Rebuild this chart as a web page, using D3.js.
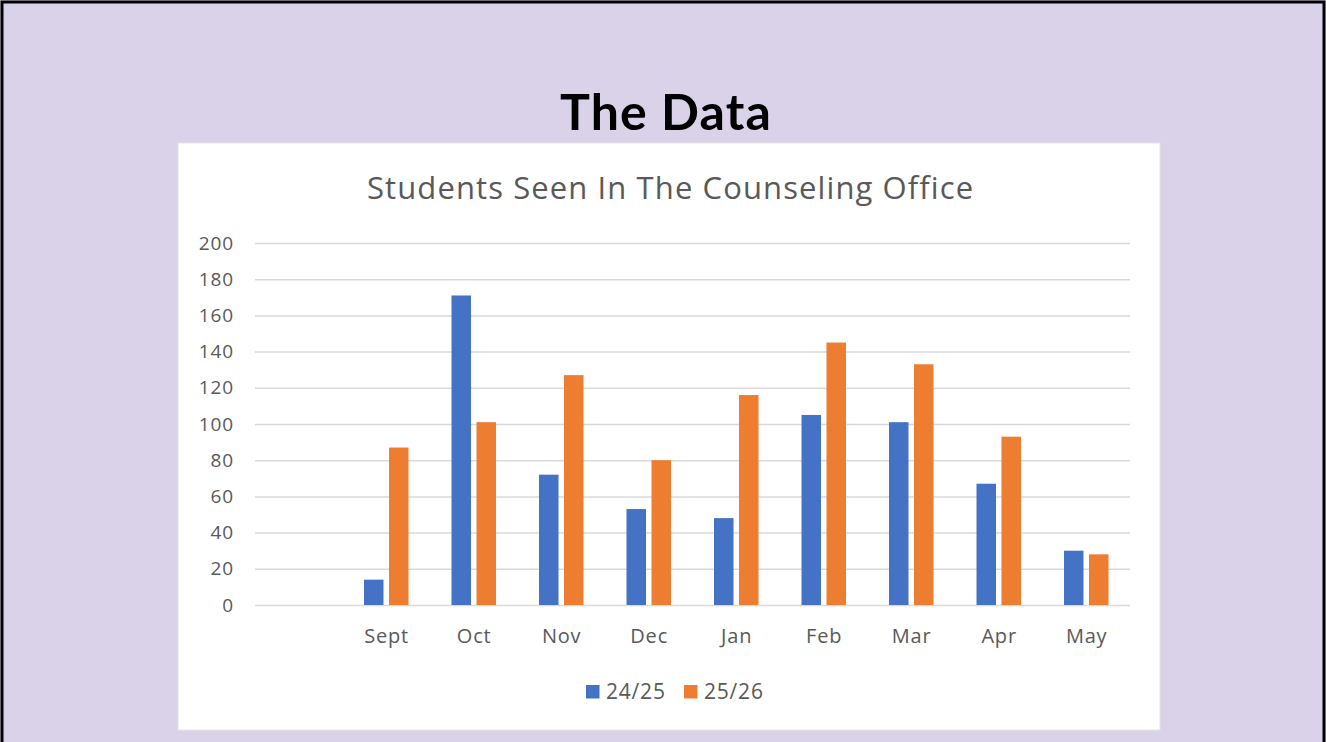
<!DOCTYPE html>
<html><head><meta charset="utf-8">
<script src="https://cdn.jsdelivr.net/npm/d3@7"></script>
<style>html,body{margin:0;padding:0;background:#d9d2e9;}svg{display:block;}</style>
</head><body>
<script>
const months = ["", "Sept", "Oct", "Nov", "Dec", "Jan", "Feb", "Mar", "Apr", "May"];
const series = ["24/25", "25/26"];
const values2425 = [null, 14, 171, 72, 53, 48, 105, 101, 67, 30];
const values2526 = [null, 87, 101, 127, 80, 116, 145, 133, 93, 28];
const yTicks = [0, 20, 40, 60, 80, 100, 120, 140, 160, 180, 200];
const colors = ["#4472c4", "#ed7d31"];

const W = 1326, H = 742;
const FONT = "'Open Sans', sans-serif";
const svg = d3.select("body").append("svg").attr("width", W).attr("height", H);
svg.append("rect").attr("x", 0).attr("y", 0).attr("width", W).attr("height", H).attr("fill", "#d9d2e9");
svg.append("rect").attr("x", 2).attr("y", 2).attr("width", W - 4).attr("height", H + 10)
  .attr("fill", "none").attr("stroke", "#000").attr("stroke-width", 3);

svg.append("text").attr("x", 666).attr("y", 129.5).attr("text-anchor", "middle")
  .attr("font-family", "Lato, sans-serif").attr("font-weight", 700).attr("font-size", 50)
  .attr("letter-spacing", 1.1)
  .attr("fill", "#000").text("The Data");

svg.append("rect").attr("x", 178).attr("y", 143).attr("width", 982).attr("height", 587)
  .attr("fill", "#fff").attr("stroke", "#e6e6e6").attr("stroke-width", 1);

svg.append("text").attr("x", 367).attr("y", 198.5)
  .attr("font-family", FONT).attr("font-size", 31).attr("letter-spacing", 1.1)
  .attr("fill", "#595959").text("Students Seen In The Counseling Office");

const x = d3.scaleBand().domain(months.map((m, i) => i)).range([255, 1130]).padding(0);
const y = d3.scaleLinear().domain([0, 200]).range([605, 243]);

const yAxis = d3.axisLeft(y).tickValues(yTicks).tickSize(-(1130 - 255)).tickPadding(21);
const gy = svg.append("g").attr("transform", "translate(255,0)").call(yAxis);
gy.select(".domain").remove();
gy.selectAll(".tick line").attr("stroke", "#d9d9d9").attr("stroke-width", 1.5);
gy.selectAll(".tick text").attr("fill", "#595959").attr("font-family", FONT).attr("font-size", 19)
  .attr("letter-spacing", 0.9);

const xAxis = d3.axisBottom(x).tickFormat(i => months[i]).tickSize(0).tickPadding(24);
const gx = svg.append("g").attr("transform", "translate(0,605)").call(xAxis);
gx.select(".domain").remove();
gx.selectAll(".tick text").attr("fill", "#595959").attr("font-family", FONT).attr("font-size", 20)
  .attr("letter-spacing", 0.8).attr("dx", 0.4);

const barW = 19.5, gap = 5.5;
const data = [values2425, values2526];
data.forEach((vals, s) => {
  svg.append("g").selectAll("rect").data(vals.map((v, i) => ({ v, i })).filter(d => d.v != null))
    .join("rect")
    .attr("x", d => x(d.i) + x.bandwidth() / 2 + (s === 0 ? -(gap / 2 + barW) : gap / 2))
    .attr("y", d => y(d.v))
    .attr("width", barW)
    .attr("height", d => y(0) - y(d.v))
    .attr("fill", colors[s]);
});

const lg = svg.append("g");
const legendX = [586, 684];
series.forEach((s, i) => {
  lg.append("rect").attr("x", legendX[i]).attr("y", 685).attr("width", 13.5).attr("height", 13.5).attr("fill", colors[i]);
  lg.append("text").attr("x", legendX[i] + 20).attr("y", 698.5).attr("fill", "#595959")
    .attr("font-family", FONT).attr("font-size", 21).attr("letter-spacing", 0.8).text(s);
});
</script>
</body></html>
